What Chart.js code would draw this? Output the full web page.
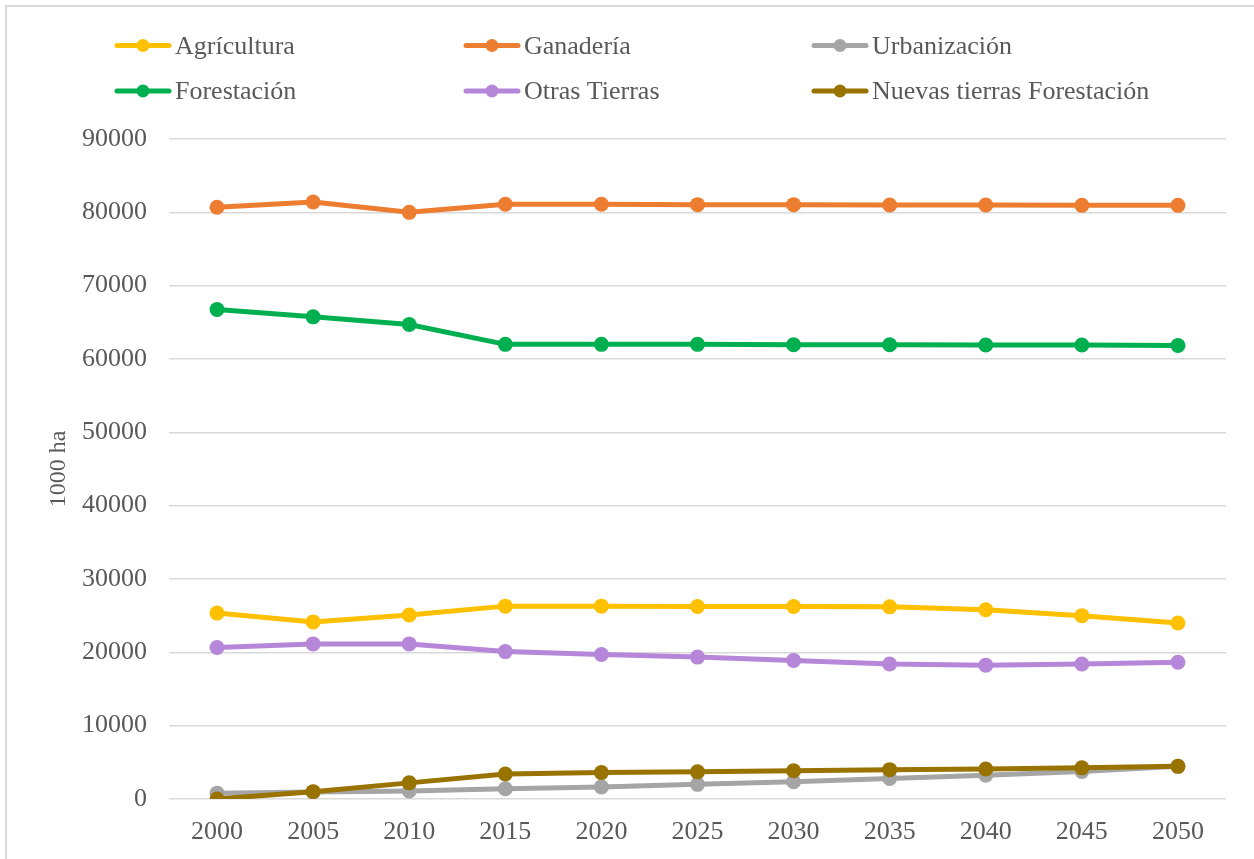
<!DOCTYPE html>
<html>
<head>
<meta charset="utf-8">
<script src="https://cdn.jsdelivr.net/npm/chart.js@4/dist/chart.umd.min.js"></script>
<style>
  html, body { margin: 0; padding: 0; background: #ffffff; overflow: hidden; }
  #frame { position: absolute; left: 5px; top: 5px; width: 1300px; height: 900px;
           border-left: 2px solid #d9d9d9; border-top: 2px solid #d9d9d9; }
  #wrap { position: absolute; left: 0; top: 0; width: 1254px; height: 859px; }
</style>
</head>
<body>
<div id="frame"></div>
<div id="wrap"><canvas id="c" width="1254" height="859"></canvas></div>
<script>
const years = ['2000','2005','2010','2015','2020','2025','2030','2035','2040','2045','2050'];
const seriesNames = ['Agrícultura','Ganadería','Urbanización','Forestación','Otras Tierras','Nuevas tierras Forestación'];
const agricultura = [25350, 24150, 25100, 26300, 26300, 26250, 26250, 26200, 25800, 25000, 24000];
const ganaderia   = [80700, 81400, 80000, 81100, 81100, 81050, 81050, 81000, 81000, 80950, 80950];
const urbanizacion = [800, 950, 1100, 1400, 1650, 2000, 2350, 2800, 3250, 3750, 4450];
const forestacion = [66750, 65750, 64700, 62000, 62000, 62000, 61950, 61950, 61900, 61900, 61850];
const otrasTierras = [20650, 21150, 21150, 20100, 19700, 19350, 18900, 18400, 18250, 18400, 18650];
const nuevasForest = [0, 1000, 2200, 3400, 3600, 3700, 3850, 4000, 4100, 4250, 4450];
const yTicks = [0, 10000, 20000, 30000, 40000, 50000, 60000, 70000, 80000, 90000];
const yTitle = '1000 ha';

const colors = ['#FFC000', '#ED7D31', '#A5A5A5', '#00B050', '#B687D9', '#997300'];
const values = [agricultura, ganaderia, urbanizacion, forestacion, otrasTierras, nuevasForest];

const FONT = "'Liberation Serif', 'Times New Roman', serif";
const TXT = '#595959';

const datasets = seriesNames.map((name, i) => ({
  label: name,
  data: values[i],
  borderColor: colors[i],
  backgroundColor: colors[i],
  pointBackgroundColor: colors[i],
  pointBorderColor: colors[i],
  borderWidth: 5,
  pointRadius: 7.5,
  pointBorderWidth: 0,
  pointHoverRadius: 7.5,
  tension: 0,
  order: seriesNames.length - i
}));

const gridLegend = {
  id: 'gridLegend',
  afterDraw(chart) {
    const ctx = chart.ctx;
    const colX = [115, 464, 812];
    const rowY = [45.5, 91];
    ctx.save();
    chart.data.datasets.forEach((ds, i) => {
      const x = colX[i % 3];
      const y = rowY[Math.floor(i / 3)];
      ctx.strokeStyle = ds.borderColor;
      ctx.lineWidth = 5;
      ctx.lineCap = 'round';
      ctx.beginPath();
      ctx.moveTo(x + 2, y);
      ctx.lineTo(x + 54, y);
      ctx.stroke();
      ctx.fillStyle = ds.borderColor;
      ctx.beginPath();
      ctx.arc(x + 28, y, 6.5, 0, Math.PI * 2);
      ctx.fill();
      ctx.fillStyle = TXT;
      ctx.font = '26px ' + FONT;
      ctx.textBaseline = 'alphabetic';
      ctx.textAlign = 'left';
      ctx.fillText(ds.label, x + 60, y + 8);
    });
    ctx.restore();
  }
};

new Chart(document.getElementById('c'), {
  type: 'line',
  data: { labels: years, datasets },
  plugins: [gridLegend],
  options: {
    responsive: false,
    animation: false,
    devicePixelRatio: 1,
    layout: { padding: { top: 139, right: 28, bottom: 10, left: 0 } },
    plugins: {
      legend: { display: false },
      tooltip: { enabled: false },
      title: { display: false }
    },
    scales: {
      x: {
        offset: true,
        grid: { display: false, drawTicks: false },
        border: { display: false },
        ticks: { color: TXT, font: { family: FONT, size: 26 }, padding: 18, maxRotation: 0, autoSkip: false },
        afterFit(scale) { scale.height = 50; }
      },
      y: {
        min: 0, max: 90000,
        afterBuildTicks(scale) { scale.ticks = yTicks.map(v => ({ value: v })); },
        grid: { color: '#d9d9d9', lineWidth: 1.5, drawTicks: false },
        border: { display: false },
        ticks: { color: TXT, font: { family: FONT, size: 26 }, padding: 22, callback: v => String(v) },
        title: { display: true, text: yTitle, color: TXT, font: { family: FONT, size: 24 }, padding: { top: 44, bottom: 0 } },
        afterFit(scale) { scale.width = 169; }
      }
    }
  }
});
</script>
</body>
</html>
